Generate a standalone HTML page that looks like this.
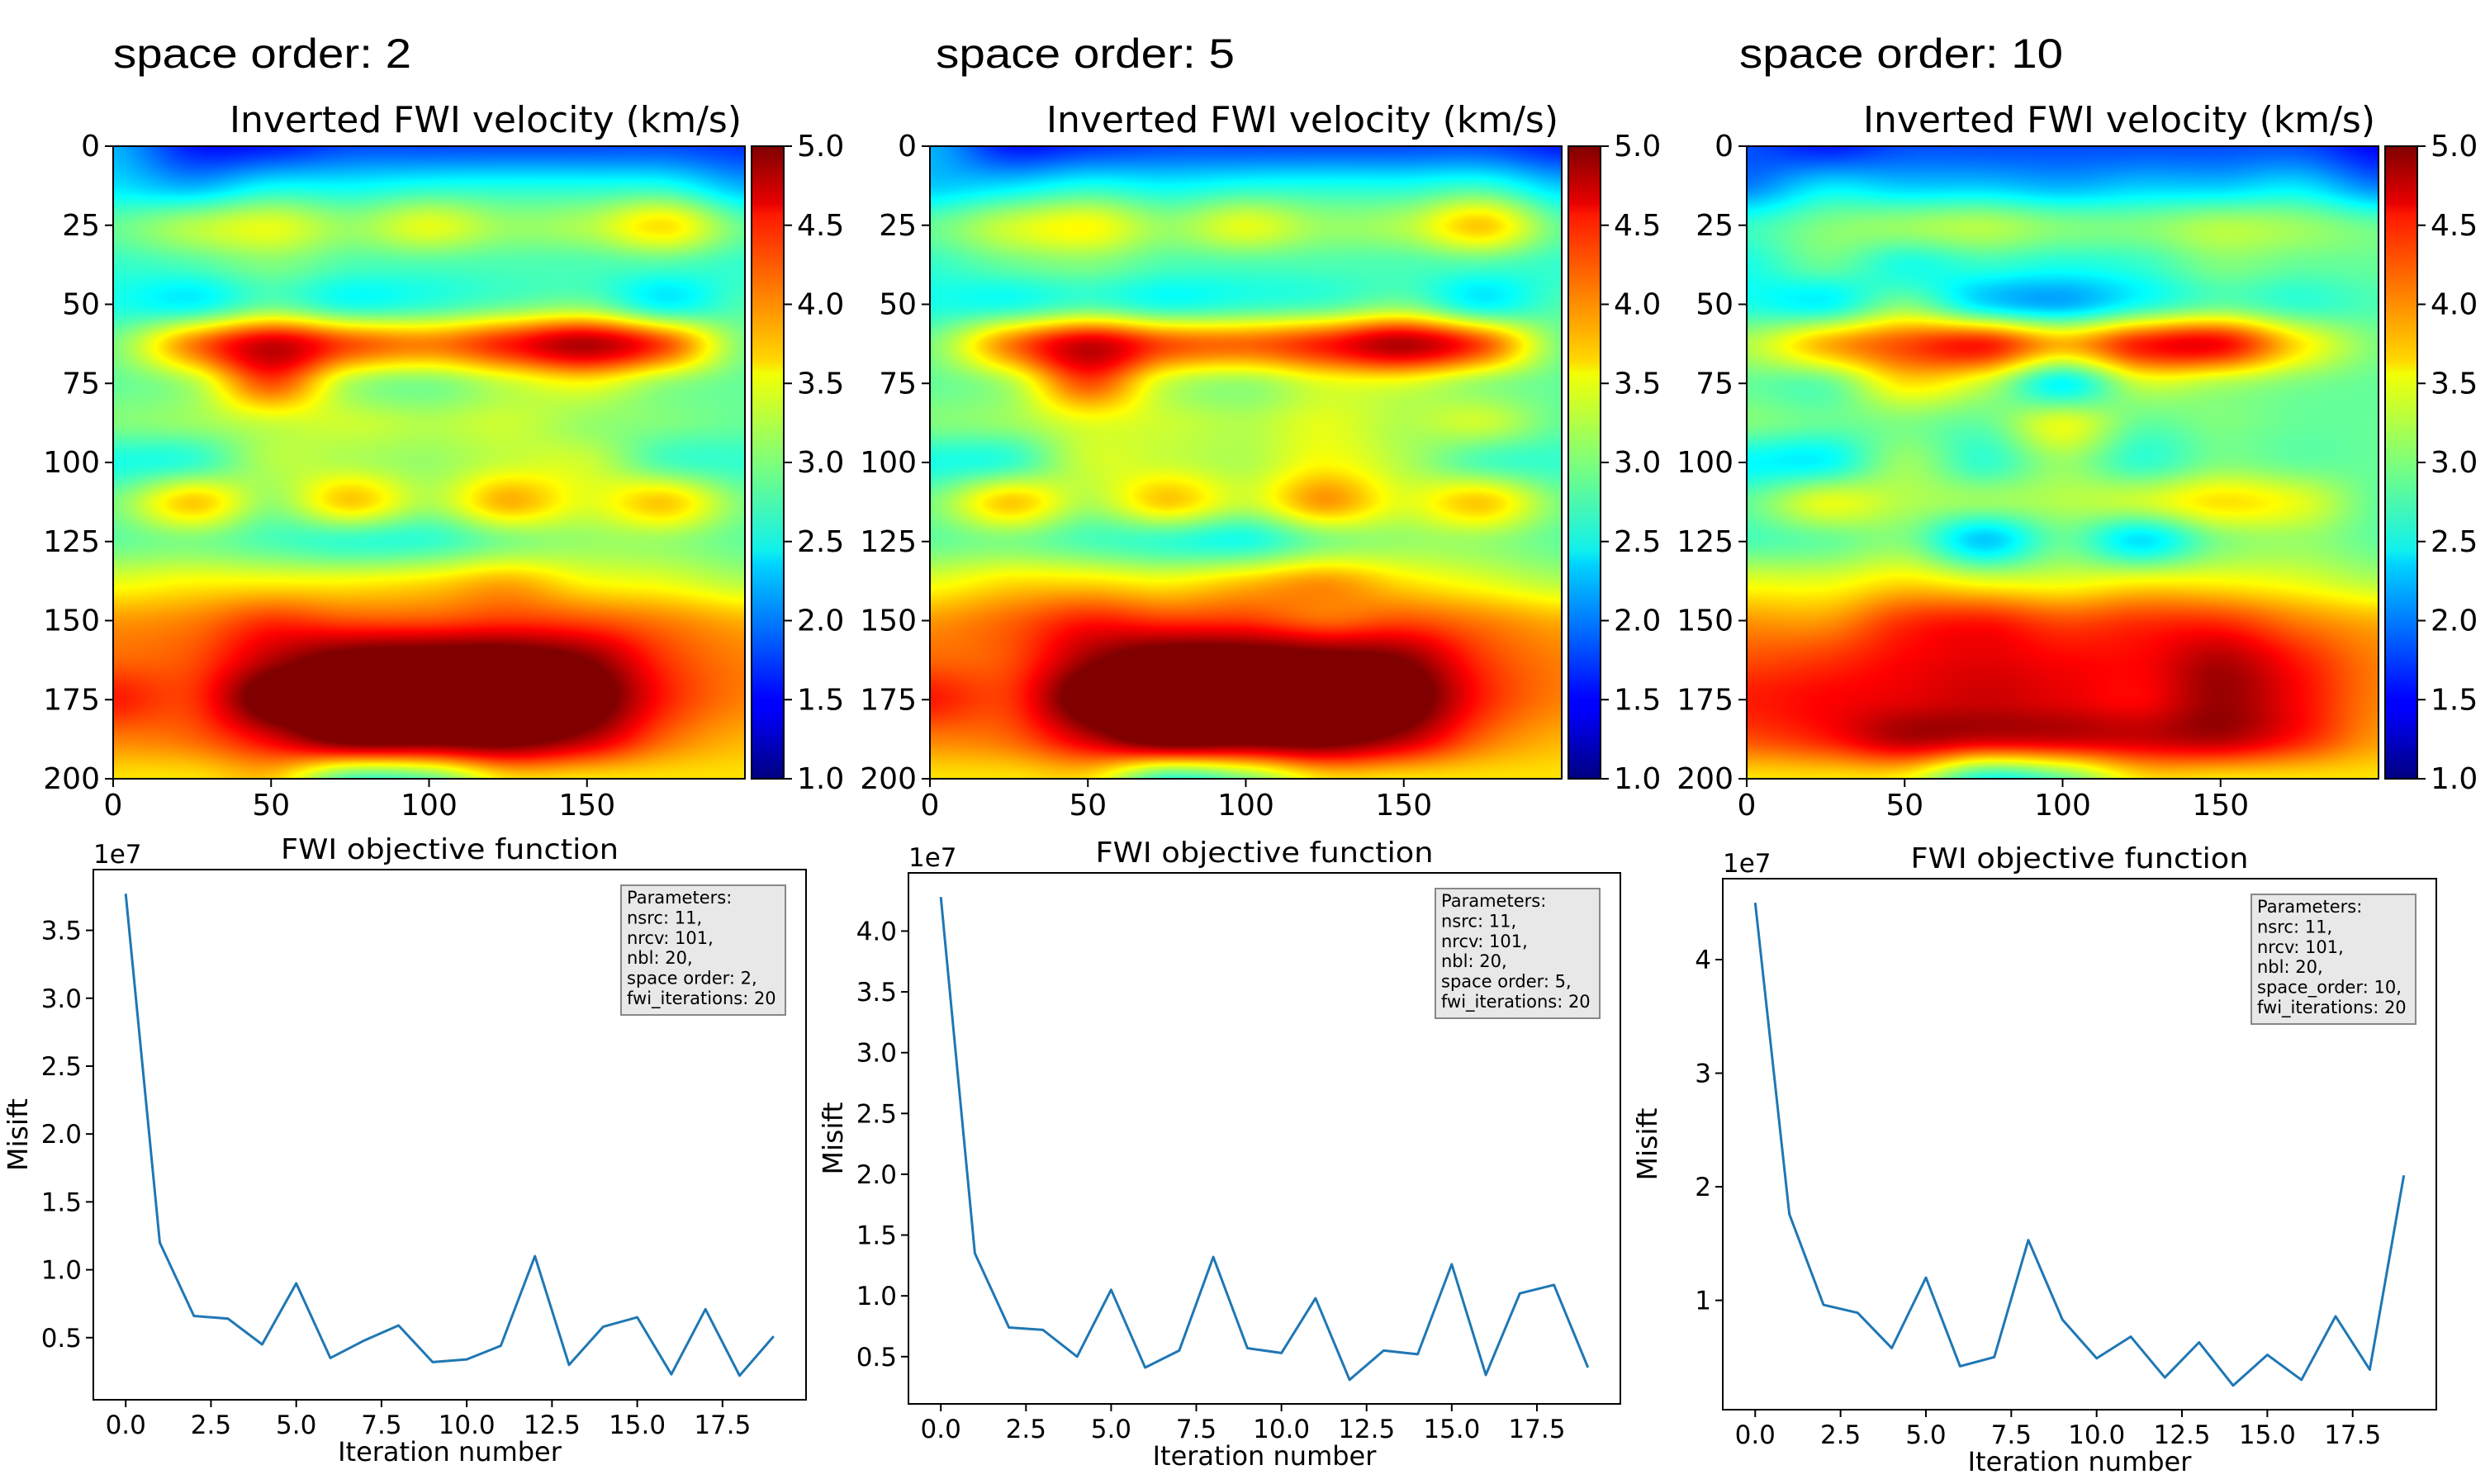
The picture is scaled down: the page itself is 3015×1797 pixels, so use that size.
<!DOCTYPE html>
<html><head><meta charset="utf-8">
<style>
html,body{margin:0;padding:0;background:#fff;}
#root{position:relative;width:3015px;height:1797px;overflow:hidden;background:#fff;}
canvas{position:absolute;}
svg{position:absolute;left:0;top:0;}
text{font-family:"DejaVu Sans","Liberation Sans",sans-serif;fill:#000;}
.ttl{font-family:"Liberation Sans",sans-serif;}
</style></head>
<body>
<div id="root">
<svg id="fig" width="3015" height="1797" viewBox="0 0 3015 1797">
<defs>
<linearGradient id="jet" x1="0" y1="1" x2="0" y2="0">
<stop offset="0" stop-color="#00007f"/><stop offset="0.11" stop-color="#0000ff"/><stop offset="0.125" stop-color="#0000ff"/>
<stop offset="0.34" stop-color="#00d4ff"/><stop offset="0.36" stop-color="#0ff0ee"/><stop offset="0.5" stop-color="#7dff7a"/>
<stop offset="0.64" stop-color="#f2ff05"/><stop offset="0.66" stop-color="#ffd900"/><stop offset="0.89" stop-color="#ff1a00"/>
<stop offset="0.91" stop-color="#e80000"/><stop offset="1" stop-color="#7f0000"/>
</linearGradient>
</defs>
</svg>
</div>
<script>
// ===== Line chart data =====
const iterations = [0,1,2,3,4,5,6,7,8,9,10,11,12,13,14,15,16,17,18,19];
const misfitSO2 = [3.77,1.20,0.66,0.64,0.45,0.90,0.35,0.48,0.59,0.32,0.34,0.44,1.10,0.30,0.58,0.65,0.23,0.71,0.22,0.51];
const misfitSO5 = [4.28,1.35,0.74,0.72,0.50,1.05,0.41,0.55,1.32,0.57,0.53,0.98,0.31,0.55,0.52,1.26,0.35,1.02,1.09,0.41];
const misfitSO10 = [4.50,1.76,0.96,0.89,0.58,1.20,0.42,0.50,1.53,0.83,0.49,0.68,0.32,0.63,0.25,0.52,0.30,0.86,0.39,2.10];
const xTicks = [0,2.5,5,7.5,10,12.5,15,17.5];
const xTickLabels = ["0.0","2.5","5.0","7.5","10.0","12.5","15.0","17.5"];
const yTicksA = [0.5,1.0,1.5,2.0,2.5,3.0,3.5];
const yTicksB = [0.5,1.0,1.5,2.0,2.5,3.0,3.5,4.0];
const yTicksC = [1,2,3,4];
const spaceOrders = [2,5,10];
const paramLabels = ["space order: 2,","space order: 5,","space_order: 10,"];

// ===== Heatmap data (velocity km/s), rows = depth 0..200 step 12.5, cols = x 0..200 step 25 =====
const depthTicks = [0,25,50,75,100,125,150,175,200];
const distTicks = [0,50,100,150];
const cbTicks = [1.0,1.5,2.0,2.5,3.0,3.5,4.0,4.5,5.0];
const velSO2 = [
[2.2,1.6,1.6,1.8,1.8,1.8,1.8,1.8,1.7],
[2.4,2.2,2.5,2.5,2.6,2.6,2.6,2.6,2.2],
[2.9,3.2,3.4,3.1,3.4,3.1,3.2,3.6,2.9],
[2.7,2.8,3.0,2.8,2.8,2.8,2.8,2.8,2.7],
[2.6,2.5,2.9,2.6,2.7,2.9,3.0,2.5,2.8],
[3.0,4.0,4.7,4.2,4.0,4.4,4.8,4.2,3.0],
[2.9,3.2,4.2,3.2,3.0,3.3,3.5,3.1,2.9],
[3.0,3.1,3.3,3.3,3.2,3.3,3.1,3.0,2.9],
[2.6,2.7,3.2,3.2,3.1,3.3,3.3,2.8,2.7],
[3.0,3.7,3.1,3.7,3.2,3.8,3.4,3.7,3.0],
[2.9,3.0,2.8,2.7,2.7,3.0,3.1,3.1,2.9],
[3.4,3.5,3.5,3.5,3.6,3.8,3.5,3.4,3.2],
[3.9,4.0,4.3,4.2,4.2,4.3,4.2,4.0,3.8],
[4.1,4.2,4.8,5.2,5.3,5.3,5.0,4.3,4.0],
[4.4,4.3,5.3,5.5,5.5,5.5,5.3,4.4,4.0],
[4.0,4.1,4.6,5.2,5.2,5.2,4.8,4.1,3.8],
[3.6,3.6,3.7,2.8,2.9,3.6,3.6,3.6,3.6]];
const velSO5 = [
[2.2,1.6,1.7,1.8,1.8,1.8,1.8,1.8,1.6],
[2.3,2.4,2.6,2.5,2.6,2.6,2.6,2.7,2.3],
[2.9,3.3,3.5,3.1,3.4,3.1,3.2,3.7,2.9],
[2.7,2.9,3.0,2.8,2.8,2.8,2.8,2.8,2.7],
[2.6,2.6,2.8,2.6,2.7,2.8,3.0,2.5,2.8],
[3.0,4.0,4.7,4.2,4.1,4.4,4.8,4.2,3.0],
[2.9,3.2,4.2,3.3,3.1,3.4,3.4,3.1,2.9],
[3.0,3.1,3.4,3.3,3.2,3.4,3.2,3.3,2.9],
[2.6,2.7,3.3,3.3,3.2,3.5,3.2,2.8,2.7],
[3.0,3.7,3.2,3.7,3.3,3.9,3.4,3.7,3.0],
[2.9,3.0,2.8,2.7,2.6,3.0,3.1,3.1,2.9],
[3.4,3.6,3.6,3.5,3.7,3.9,3.6,3.4,3.2],
[3.9,4.1,4.4,4.3,4.3,4.1,4.2,4.0,3.8],
[4.1,4.2,4.9,5.3,5.3,5.2,5.0,4.3,4.0],
[4.4,4.3,5.3,5.5,5.5,5.5,5.3,4.4,4.0],
[4.0,4.1,4.7,5.3,5.2,5.2,4.8,4.1,3.8],
[3.6,3.6,3.6,2.7,3.0,3.6,3.6,3.6,3.6]];
const velSO10 = [
[1.8,1.6,1.8,1.8,1.8,1.8,1.8,1.8,1.5],
[2.0,2.4,2.3,2.3,2.2,2.3,2.3,2.4,2.0],
[2.7,3.0,3.1,3.2,3.0,3.0,3.2,3.1,2.9],
[2.6,2.9,2.6,2.7,2.6,2.7,3.0,2.9,2.9],
[2.6,2.5,3.0,2.4,2.2,2.6,2.9,2.7,2.8],
[3.2,3.8,4.2,4.4,3.8,4.4,4.5,3.6,3.0],
[2.9,2.9,3.6,3.3,2.5,3.3,3.2,3.0,2.9],
[3.0,2.9,3.0,2.9,3.4,2.9,3.0,2.9,2.9],
[2.5,2.5,3.1,2.7,3.1,2.7,3.0,2.9,2.9],
[2.9,3.4,3.2,3.1,3.2,3.3,3.6,3.4,2.9],
[2.8,2.9,3.0,2.3,2.9,2.4,3.0,3.1,2.9],
[3.4,3.4,3.6,3.4,3.4,3.5,3.5,3.4,3.2],
[3.9,3.9,4.3,4.4,4.2,4.3,4.3,4.0,3.8],
[4.2,4.3,4.5,4.6,4.5,4.5,4.8,4.4,4.0],
[4.4,4.5,4.6,4.7,4.6,4.5,4.9,4.5,4.0],
[4.2,4.4,4.8,4.7,4.7,4.7,4.8,4.4,3.9],
[3.6,3.6,3.5,2.6,2.9,3.6,3.6,3.6,3.6]];

const NS='http://www.w3.org/2000/svg';
const svg=document.getElementById('fig');
const root=document.getElementById('root');
function mk(tag,attrs,parent){const e=document.createElementNS(NS,tag);for(const k in attrs)e.setAttribute(k,attrs[k]);(parent||svg).appendChild(e);return e;}
function txt(s,x,y,size,anchor,parent,extra){const t=mk('text',Object.assign({x:x,y:y,'font-size':size,'text-anchor':anchor||'start'},extra||{}),parent);t.textContent=s;return t;}

function jet(v){
  let t=(v-1)/4; if(t<0)t=0; if(t>1)t=1;
  function cl(x){return Math.max(0,Math.min(1,x));}
  const r=cl(1.5-Math.abs(4*t-3)), g=cl(1.5-Math.abs(4*t-2)), b=cl(1.5-Math.abs(4*t-1));
  return [r*255,g*255,b*255];
}
function cr(p0,p1,p2,p3,t){return p1+0.5*t*(p2-p0+t*(2*p0-5*p1+4*p2-p3+t*(3*(p1-p2)+p3-p0)));}
function sample(grid,r,c){const R=grid.length,C=grid[0].length;r=Math.max(0,Math.min(R-1,r));c=Math.max(0,Math.min(C-1,c));return grid[r][c];}
function interp(grid,fr,fc){
  const r=Math.floor(fr),c=Math.floor(fc),tr=fr-r,tc=fc-c;const rows=[];
  for(let i=-1;i<=2;i++){rows.push(cr(sample(grid,r+i,c-1),sample(grid,r+i,c),sample(grid,r+i,c+1),sample(grid,r+i,c+2),tc));}
  return cr(rows[0],rows[1],rows[2],rows[3],tr);
}

const HM_W=765, HM_H=766, HM_TOP=177;
const hmLefts=[137,1126,2115];
const hmData=[velSO2,velSO5,velSO10];
const titleOffsets=[0,7,-9];
const titleWidths=[361,362,392];

for(let p=0;p<3;p++){
  const L=hmLefts[p];
  const g=mk('g',{});
  
  
  const cv=document.createElement('canvas');
  cv.width=HM_W;cv.height=HM_H;cv.style.left=L+'px';cv.style.top=HM_TOP+'px';
  
  
  root.insertBefore(cv,svg);
  const ctx=cv.getContext('2d');const img=ctx.createImageData(HM_W,HM_H);
  const grid=hmData[p];const R=grid.length-1,C=grid[0].length-1;
  for(let y=0;y<HM_H;y++){const fr=(y/(HM_H-1))*R;
    for(let x=0;x<HM_W;x++){const fc=(x/(HM_W-1))*C;
      const col=jet(interp(grid,fr,fc));const i=(y*HM_W+x)*4;
      img.data[i]=col[0];img.data[i+1]=col[1];img.data[i+2]=col[2];img.data[i+3]=255;}}
  ctx.putImageData(img,0,0);
  const fr=mk('rect',{x:L,y:HM_TOP,width:HM_W,height:HM_H,fill:'none',stroke:'#000','stroke-width':2},g);
  
  const st=txt('space order: '+spaceOrders[p],L+titleOffsets[p],82,50,'start',g,{textLength:titleWidths[p],lengthAdjust:'spacingAndGlyphs',class:'ttl'});
  
  const ht=txt('Inverted FWI velocity (km/s)',L+141,160,44,'start',g,{textLength:620,lengthAdjust:'spacingAndGlyphs'});
  
  depthTicks.forEach(d=>{const y=HM_TOP+d/200*HM_H;
    mk('line',{x1:L-10,x2:L,y1:y,y2:y,stroke:'#000','stroke-width':2},g);
    const t=txt(String(d),L-16,y+12,36,'end',g);});
  distTicks.forEach(d=>{const x=L+d/200*HM_W;
    mk('line',{x1:x,x2:x,y1:HM_TOP+HM_H,y2:HM_TOP+HM_H+10,stroke:'#000','stroke-width':2},g);
    const t=txt(String(d),x,HM_TOP+HM_H+44,36,'middle',g);});
  const cbx=L+773,cbw=39;
  const cb=mk('rect',{x:cbx,y:HM_TOP,width:cbw,height:HM_H,fill:'url(#jet)',stroke:'#000','stroke-width':2},g);
  
  cbTicks.forEach(v=>{const y=HM_TOP+HM_H-(v-1)/4*HM_H;
    mk('line',{x1:cbx+cbw,x2:cbx+cbw+10,y1:y,y2:y,stroke:'#000','stroke-width':2},g);
    const t=txt(v.toFixed(1),cbx+cbw+16,y+12,36,'start',g);});
}

const boxes=[{l:113,r:976,t:1053,b:1695},{l:1100,r:1962,t:1057,b:1700},{l:2086,r:2950,t:1064,b:1707}];
const series=[misfitSO2,misfitSO5,misfitSO10];
const yTickSets=[yTicksA,yTicksB,yTicksC];
for(let p=0;p<3;p++){
  const B=boxes[p],data=series[p];
  const g=mk('g',{});
  
  
  const mn=Math.min(...data),mx=Math.max(...data),pad=(mx-mn)*0.05;
  const y0=mn-pad,y1=mx+pad;
  const xmin=-0.95,xmax=19.95;
  const sx=v=>B.l+(v-xmin)/(xmax-xmin)*(B.r-B.l);
  const sy=v=>B.b-(v-y0)/(y1-y0)*(B.b-B.t);
  const ax=mk('rect',{x:B.l,y:B.t,width:B.r-B.l,height:B.b-B.t,fill:'#fff',stroke:'#000','stroke-width':2},g);
  
  yTickSets[p].forEach(v=>{const y=sy(v);
    mk('line',{x1:B.l-9,x2:B.l,y1:y,y2:y,stroke:'#000','stroke-width':2},g);
    const lbl=(p===2)?String(v):v.toFixed(1);
    const t=txt(lbl,B.l-14,y+11,31,'end',g);});
  xTicks.forEach((v,i)=>{const x=sx(v);
    mk('line',{x1:x,x2:x,y1:B.b,y2:B.b+9,stroke:'#000','stroke-width':2},g);
    const t=txt(xTickLabels[i],x,B.b+41,31,'middle',g);});
  let d='';data.forEach((v,i)=>{d+=(i?'L':'M')+sx(iterations[i]).toFixed(1)+' '+sy(v).toFixed(1);});
  const ln=mk('path',{d:d,fill:'none',stroke:'#1f77b4','stroke-width':3,'stroke-linejoin':'round'},g);
  
  const off=txt('1e7',B.l,B.t-8,31,'start',g);
  const tt=txt('FWI objective function',(B.l+B.r)/2,B.t-13,34,'middle',g,{textLength:409,lengthAdjust:'spacingAndGlyphs'});
  
  const xl=txt('Iteration number',(B.l+B.r)/2,B.b+74,32,'middle',g);
  const cy=(B.t+B.b)/2,cx=B.l-80;
  const yl=txt('Misift',cx,cy,33,'middle',g,{transform:'rotate(-90 '+cx+' '+cy+')'});
  const lx=B.r-224,ly=B.t+19;
  const lb=mk('rect',{x:lx,y:ly,width:199,height:157,fill:'#e8e8e8',stroke:'#888','stroke-width':2},g);
  
  const lines=['Parameters:','nsrc: 11,','nrcv: 101,','nbl: 20,',paramLabels[p],'fwi_iterations: 20'];
  lines.forEach((s,i)=>{const t=txt(s,lx+7,ly+22+i*24.4,21,'start',g);
    });
}
</script>
</body></html>
